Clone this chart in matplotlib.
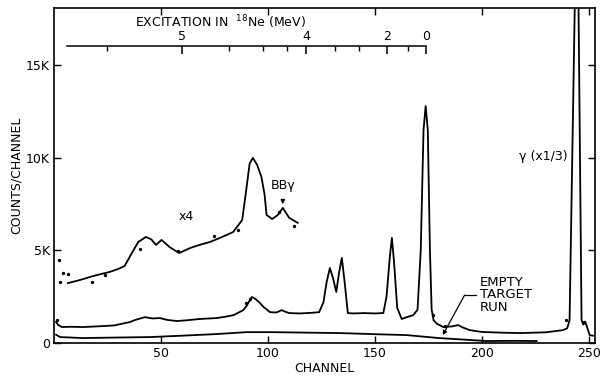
import numpy as np
import matplotlib
matplotlib.use("Agg")
import matplotlib.pyplot as plt

plt.rcParams['font.family'] = ['DejaVu Sans']

# spectre principal (coups / canal)
canal = [1, 2, 3.7, 8, 13.6, 20, 28, 35.5, 38, 42.5, 46, 49.5, 53, 57.5, 62, 68,
         76, 80, 84, 88.5, 90, 92.5, 94, 96, 98, 101, 104, 106.5, 108, 110, 115,
         120, 124, 126, 127.5, 129, 130.5, 132, 133.3, 134.6, 136, 137.4, 140,
         145, 150, 154, 155.5, 157, 158, 159, 160.5, 162.6, 165, 168, 170, 171.5,
         172.8, 173.8, 174.8, 175.8, 176.6, 177.5, 179, 182, 186, 189, 191, 194.4,
         200, 210, 218, 230, 238, 240, 241.1, 243.5, 244.4, 245.3, 246.7, 247.5,
         248.5, 250.5, 252]
coups = [1135, 973, 865, 880, 865, 900, 950, 1135, 1250, 1400, 1330, 1350, 1250,
         1190, 1230, 1300, 1350, 1420, 1510, 1780, 2000, 2490, 2400, 2200, 1950,
         1670, 1650, 1780, 1700, 1620, 1600, 1630, 1670, 2200, 3300, 4050, 3500,
         2760, 3800, 4600, 3200, 1620, 1600, 1620, 1600, 1620, 2500, 4600, 5680,
         4400, 1900, 1300, 1400, 1510, 1800, 5000, 11500, 12800, 11500, 5000, 1800,
         1240, 1050, 865, 900, 970, 850, 700, 600, 560, 540, 580, 700, 800, 1240,
         18000, 26000, 18000, 1240, 1000, 1135, 430, 400]

# meme spectre x4 (partie basse energie)
canal_x4 = [6.5, 12, 16.8, 21, 26, 30, 33, 36.4, 39.4, 43, 45.5, 47.7, 50.3, 54,
            58.5, 63.6, 68, 73, 78, 83.8, 88, 89.7, 91.5, 93, 95, 97, 98.5, 99.4,
            102, 104.7, 107, 110, 114]
coups_x4 = [3240, 3400, 3570, 3700, 3840, 4000, 4160, 4860, 5460, 5730, 5600,
            5300, 5570, 5190, 4860, 5130, 5300, 5460, 5700, 6000, 6650, 8100,
            9700, 10000, 9620, 8970, 8000, 6920, 6700, 6920, 7300, 6760, 6490]

# cible vide
canal_vide = [1, 2.8, 13.6, 30, 45, 60, 76, 90, 102, 120, 134, 150, 165, 180,
              190, 202, 215, 225.7]
coups_vide = [450, 324, 270, 300, 324, 400, 486, 590, 590, 560, 540, 480, 430,
              270, 200, 110, 120, 110]

# quelques points disperses
pts_x4_c = [2.4, 2.8, 4.3, 6.5, 18, 24, 40, 58, 75, 86, 105, 112]
pts_x4_v = [4490, 3300, 3780, 3730, 3300, 3650, 5100, 4950, 5800, 6100, 7100, 6300]
pts_c = [1.2, 90, 91.5, 177, 183, 239.5, 248]
pts_v = [1250, 2160, 2400, 1500, 900, 1250, 1150]

# echelle d'excitation (haut)
exc_canal_maj = [59.8, 117.8, 155.6, 173.8]
exc_lab = ["5", "4", "2", "0"]
exc_canal_min = [24.8, 81.8, 97.7, 108.9, 131.3, 142.5, 165.4]
exc_debut, exc_fin = 6, 173.8
exc_y = 16050

fig = plt.figure(figsize=(6.0, 3.77), dpi=100)
ax = fig.add_axes([0.09, 0.09, 0.9017, 0.889])

ax.plot(canal, coups, color='black', lw=1.3)
ax.plot(canal_x4, coups_x4, color='black', lw=1.3)
ax.plot(canal_vide, coups_vide, color='black', lw=1.3)
ax.scatter(pts_x4_c, pts_x4_v, s=2, color='black')
ax.scatter(pts_c, pts_v, s=2, color='black')

ax.set_xlim(0, 253)
ax.set_ylim(0, 18100)
ax.set_xticks([50, 100, 150, 200, 250])
ax.set_xticklabels(["50", "100", "150", "200", "250"])
ax.set_yticks([0, 5000, 10000, 15000])
ax.set_yticklabels(["0", "5K", "10K", "15K"])
ax.tick_params(direction='in', length=5, width=1, labelsize=9,
               top=True, right=True, pad=3)
for s in ax.spines.values():
    s.set_linewidth(1.2)

ax.set_xlabel("CHANNEL", fontsize=9, labelpad=1)
ax.set_ylabel("COUNTS/CHANNEL", fontsize=9, labelpad=2)

# axe d'excitation dessine a la main
ax.plot([exc_debut, exc_fin], [exc_y, exc_y], color='black', lw=1.1)
ax.vlines(exc_canal_maj, exc_y - 450, exc_y, color='black', lw=1.1)
ax.vlines(exc_canal_min, exc_y - 300, exc_y, color='black', lw=1.0)
for c, l in zip(exc_canal_maj, exc_lab):
    ax.text(c, exc_y + 150, l, ha='center', va='bottom', fontsize=9)
ax.text(77.6, 17350, r"EXCITATION IN  $^{18}$Ne (MeV)", ha='center',
        va='center', fontsize=9)

ax.text(62, 6810, "x4", ha='center', va='center', fontsize=9)
ax.annotate("BBγ", xy=(107, 7500), xytext=(107, 8500), ha='center',
            va='center', fontsize=9,
            arrowprops=dict(arrowstyle='-|>', color='black', lw=0.9,
                            shrinkA=4, shrinkB=0, mutation_scale=6))
ax.text(217.5, 10050, "γ (x1/3)", ha='left', va='center', fontsize=9)

ax.text(199, 2600, "EMPTY\nTARGET\nRUN", ha='left', va='center', fontsize=9.5,
        linespacing=0.95)
ax.plot([192, 197.5], [2590, 2590], color='black', lw=0.9)
ax.annotate("", xy=(181.8, 430), xytext=(192, 2590),
            arrowprops=dict(arrowstyle='-|>', color='black', lw=0.9,
                            shrinkA=0, shrinkB=0, mutation_scale=6))

fig.savefig("out.png", dpi=100)
